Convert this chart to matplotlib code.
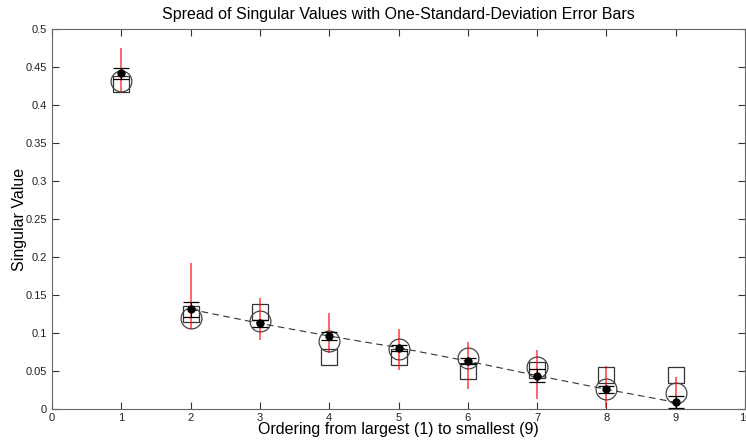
import numpy as np
import matplotlib
matplotlib.use("Agg")
import matplotlib.pyplot as plt

# ordering index of the singular values
order = [1, 2, 3, 4, 5, 6, 7, 8, 9]
# mean singular value (black dots) and one-standard-deviation error
mean_sv = [0.4417, 0.1311, 0.1127, 0.0960, 0.0807, 0.0630, 0.0440, 0.0259, 0.0088]
std_sv = [0.0075, 0.0095, 0.0050, 0.0050, 0.0040, 0.0040, 0.0090, 0.0050, 0.0080]
# spread of individual samples (red lines)
spread_lo = [0.4175, 0.1050, 0.0910, 0.0740, 0.0510, 0.0260, 0.0130, 0.0010, 0.0017]
spread_hi = [0.4750, 0.1920, 0.1460, 0.1260, 0.1050, 0.0886, 0.0776, 0.0566, 0.0417]
# reference values (circles and squares)
circle_sv = [0.4310, 0.1200, 0.1160, 0.0900, 0.0790, 0.0670, 0.0550, 0.0260, 0.0215]
square_sv = [0.4270, 0.1250, 0.1270, 0.0680, 0.0680, 0.0500, 0.0510, 0.0450, 0.0443]

plt.rcParams["font.family"] = ["Liberation Sans", "DejaVu Sans"]

fig = plt.figure(figsize=(7.46, 4.43), dpi=100)
ax = fig.add_axes([0.0697, 0.0767, 0.929, 0.858])

ax.vlines(order, spread_lo, spread_hi, colors="red", linewidth=1.2, alpha=0.7, zorder=3)
ax.plot(order, square_sv, linestyle="none", marker="s", markersize=12,
        markerfacecolor="none", markeredgecolor="#333333", markeredgewidth=0.9, zorder=2)
ax.plot(order, circle_sv, linestyle="none", marker="o", markersize=15,
        markerfacecolor="none", markeredgecolor="#444444", markeredgewidth=0.9, zorder=2)
ax.errorbar(order, mean_sv, yerr=std_sv, fmt="none", ecolor="black",
            elinewidth=0.8, capsize=5.5, capthick=0.9, zorder=4)
ax.plot(order[1:], mean_sv[1:], linestyle=(0, (6, 4)), color="#333333", linewidth=0.8, zorder=1)
ax.plot(order, mean_sv, linestyle="none", marker="o", markersize=5, color="black", zorder=5)

ax.set_xlim(0, 10)
ax.set_ylim(0, 0.5)
ax.set_xticks(range(0, 11))
ax.set_yticks(np.arange(0, 0.51, 0.05))
ax.set_yticklabels(["0", "0.05", "0.1", "0.15", "0.2", "0.25", "0.3", "0.35", "0.4", "0.45", "0.5"])
ax.tick_params(direction="in", length=5, width=0.8, top=True, right=True,
               labelsize=8, colors="#333333", labelcolor="#222222")
ax.tick_params(axis="x", pad=3)
for s in ax.spines.values():
    s.set_color("#666666")
    s.set_linewidth(0.8)

ax.set_title("Spread of Singular Values with One-Standard-Deviation Error Bars", fontsize=11.5, pad=7)
ax.set_xlabel("Ordering from largest (1) to smallest (9)", fontsize=11.5)
ax.set_ylabel("Singular Value", fontsize=11.5)
ax.xaxis.set_label_coords(0.5, -0.034)
ax.yaxis.set_label_coords(-0.036, 0.5)

fig.savefig("out.png", dpi=100)
